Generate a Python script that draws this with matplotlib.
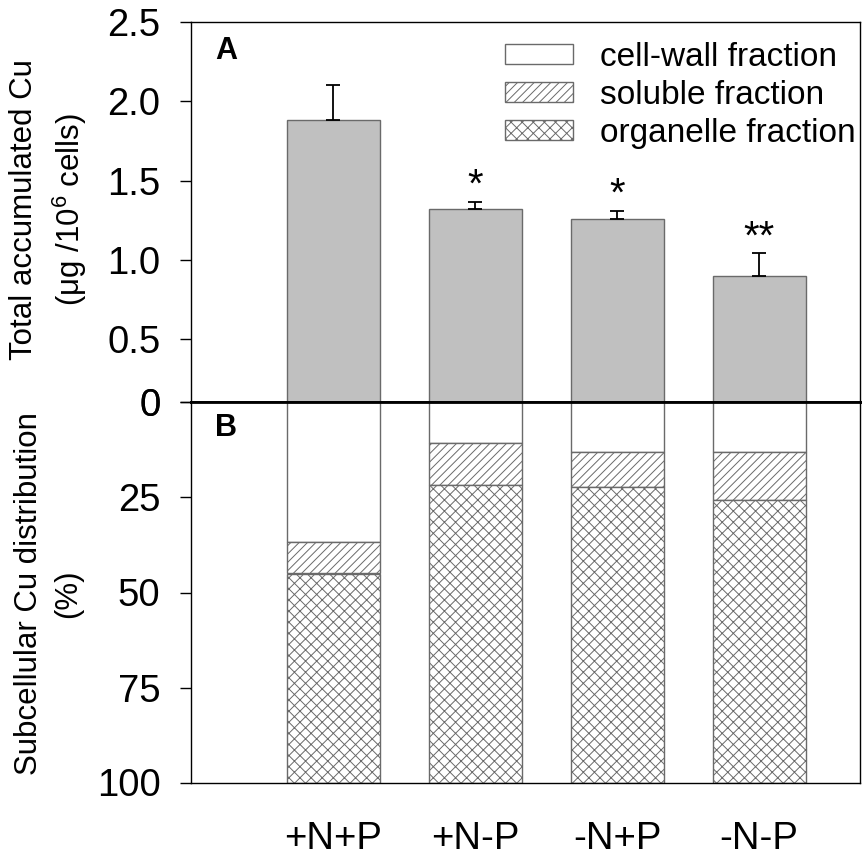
import matplotlib
matplotlib.use("Agg")
import matplotlib.pyplot as plt
from matplotlib.patches import Patch
import numpy as np

plt.rcParams['font.family'] = ['Liberation Sans', 'DejaVu Sans']
plt.rcParams['mathtext.fontset'] = 'custom'
plt.rcParams['mathtext.rm'] = 'Liberation Sans'
plt.rcParams['hatch.linewidth'] = 0.7

# ---- data ----
categories = ['+N+P', '+N-P', '-N+P', '-N-P']
total_cu = [1.88, 1.32, 1.26, 0.90]
total_err = [0.22, 0.045, 0.05, 0.14]
significance = ['', '*', '*', '**']

cell_wall = [36.6, 10.7, 12.9, 13.1]
soluble = [8.4, 10.9, 9.3, 12.6]
organelle = [55.0, 78.4, 77.8, 74.3]

ytick_vals_a = [0.1, 0.5, 1.0, 1.5, 2.0, 2.5]
ytick_labels_a = ['0', '0.5', '1.0', '1.5', '2.0', '2.5']
ytick_vals_b = [0, 25, 50, 75, 100]
legend_labels = ['cell-wall fraction', 'soluble fraction', 'organelle fraction']

W, H = 864, 856
fig = plt.figure(figsize=(W / 100, H / 100), dpi=100)

left = 191 / W
width = 669 / W
axA = fig.add_axes([left, (H - 402.5) / H, width, 380.5 / H])
axB = fig.add_axes([left, (H - 782.5) / H, width, 380 / H])

x = np.arange(len(categories))
bw = 0.655
edge = '#6a6a6a'

# ---- panel A ----
axA.bar(x, total_cu, width=bw, color='#c0c0c0', edgecolor=edge, linewidth=1.0, zorder=2)
axA.errorbar(x, total_cu, yerr=[np.zeros(len(x)), total_err], fmt='none',
             ecolor='black', elinewidth=1.3, capsize=5, capthick=1.3, zorder=3)
for xi, v, e, s in zip(x, total_cu, total_err, significance):
    if s:
        axA.annotate(s, (xi, v + e), xytext=(0, -2), textcoords='offset points',
                     ha='center', va='bottom', fontsize=29)
axA.set_xlim(-1.0, 3.71)
axA.set_ylim(0.1, 2.5)
axA.set_yticks(ytick_vals_a)
axA.set_yticklabels(ytick_labels_a)
axA.set_xticks([])
axA.tick_params(axis='y', direction='out', length=8, width=1, pad=14, labelsize=27.5)
for sp in axA.spines.values():
    sp.set_linewidth(1.0)
axA.spines['bottom'].set_linewidth(2.0)
fig.text(226 / W, 1 - 51 / H, 'A', fontsize=22, fontweight='bold', ha='center', va='center')

handles = [Patch(facecolor='white', edgecolor=edge, linewidth=1.0),
           Patch(facecolor='white', edgecolor=edge, hatch='////', linewidth=1.0),
           Patch(facecolor='white', edgecolor=edge, hatch='xxx', linewidth=1.0)]
axA.legend(handles, legend_labels, loc='upper left', bbox_to_anchor=(0.469, 0.948),
           frameon=False, fontsize=24, handlelength=2.06, handleheight=0.58,
           handletextpad=0.8, labelspacing=0.21, borderpad=0, borderaxespad=0)

# ---- panel B ----
cw = np.array(cell_wall)
so = np.array(soluble)
org = np.array(organelle)
axB.bar(x, cw, width=bw, color='white', edgecolor=edge, linewidth=1.0, zorder=2)
axB.bar(x, so, bottom=cw, width=bw, color='white', edgecolor=edge, hatch='////', linewidth=1.0, zorder=2)
axB.bar(x, org, bottom=cw + so, width=bw, color='white', edgecolor=edge, hatch='xxx', linewidth=1.0, zorder=2)
axB.set_xlim(-1.0, 3.71)
axB.set_ylim(100, 0)
axB.set_yticks(ytick_vals_b)
axB.set_xticks(x)
axB.set_xticklabels(categories)
axB.tick_params(axis='y', direction='out', length=8, width=1, pad=14, labelsize=27.5)
axB.tick_params(axis='x', length=0, pad=28, labelsize=27.5)
for sp in axB.spines.values():
    sp.set_linewidth(1.0)
axB.spines['top'].set_linewidth(2.0)
fig.text(226 / W, 1 - 428 / H, 'B', fontsize=22, fontweight='bold', ha='center', va='center')

# ---- y labels ----
fig.text(49 / W, 1 - 210 / H, 'Total accumulated Cu\n(μg /10$^{\\mathregular{6}}$ cells)',
         rotation=90, ha='center', va='center', fontsize=22.5, multialignment='center',
         linespacing=1.4)
fig.text(49 / W, 1 - 594 / H, 'Subcellular Cu distribution\n(%)',
         rotation=90, ha='center', va='center', fontsize=22.5, multialignment='center',
         linespacing=1.4)

fig.savefig('out.png', dpi=100)
